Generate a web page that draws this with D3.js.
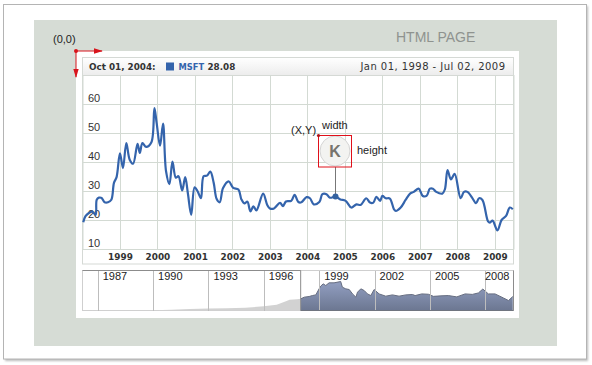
<!DOCTYPE html>
<html>
<head>
<meta charset="utf-8">
<script src="https://cdn.jsdelivr.net/npm/d3@7"></script>
<style>
  html, body { margin: 0; padding: 0; background: #fff; }
  svg { display: block; }
  text { font-family: "Liberation Sans", Arial, sans-serif; fill: #222; }
</style>
</head>
<body>
<div id="chart"></div>
<script>
// values
const priceYears = [1998.02,1998.08,1998.17,1998.26,1998.35,1998.38,1998.44,1998.51,1998.59,1998.68,1998.77,1998.84,1998.91,
  1999.0,1999.08,1999.17,1999.26,1999.35,1999.47,1999.53,1999.6,1999.7,1999.84,1999.92,1999.98,
  2000.07,2000.15,2000.23,2000.32,2000.4,2000.49,2000.56,2000.66,2000.74,2000.81,2000.9,2000.99,
  2001.07,2001.16,2001.23,2001.32,2001.41,2001.5,2001.58,2001.66,2001.75,2001.9,2002.02,2002.16,
  2002.24,2002.32,2002.4,2002.48,2002.56,2002.64,2002.82,2002.93,2003.0,2003.11,2003.27,2003.35,
  2003.43,2003.57,2003.66,2003.76,2003.84,2003.98,2004.07,2004.17,2004.32,2004.4,2004.51,2004.6,
  2004.75,2004.88,2005.02,2005.17,2005.31,2005.42,2005.57,2005.67,2005.76,2005.84,2005.94,2006.0,
  2006.09,2006.2,2006.31,2006.36,2006.49,2006.62,2006.74,2006.84,2006.97,2007.08,2007.18,2007.27,
  2007.35,2007.44,2007.6,2007.67,2007.74,2007.83,2007.93,2008.09,2008.18,2008.27,2008.41,2008.5,
  2008.58,2008.67,2008.82,2008.87,2008.94,2009.07,2009.18,2009.3,2009.4,2009.48];
const priceValues = [19.2,21.3,22.4,22.9,21.8,27,27.7,27.6,26.1,26.1,27,32.8,34.8,
  43,37.9,46.5,40.8,39.4,46.3,43.1,46.5,45.2,46.8,58.6,53.4,
  45.6,53.2,36.8,32.4,40.1,34.6,35.1,30.2,34.8,29.3,21.8,31.3,
  29.9,27.5,35.1,35.3,36.7,32.8,27.2,26.1,31,33.3,31.1,30.5,
  27.1,25.7,26.3,23,24.7,23.3,29.1,25.2,24,24,25.9,24.8,
  26.4,26.6,28.7,26.2,26.1,27.9,27.5,25.4,26.2,28.9,28.9,27.7,
  28.08,27.1,26.6,24.3,25.4,25.2,27.5,26,26,28,26.6,28.3,
  27.5,27.4,23.7,23.1,24.3,26.9,29.1,29.7,30.8,28.3,28.3,30.8,
  30.8,29.7,29.1,30.6,37.2,34,35.9,27.5,29.7,29.7,27.4,25.8,
  27.5,26.9,19.5,19.1,19.8,16.4,20,21.4,24.3,23.7];

const historyYears = [1986.18,1987,1988,1989,1990,1991,1992,1993,1994,1995,1996,1996.7,1997.2,1997.4,1997.8,1998.02];
const historyValues = [0.2,0.4,0.5,0.6,0.7,1.5,3,4,4.5,5.5,8.8,11.7,19,22,23,23.9];

const overviewYears = [1998.01,1998.19,1998.46,1998.64,1998.82,1999.0,1999.09,1999.22,1999.36,1999.54,1999.81,2000.17,2000.26,
  2000.44,2000.63,2000.81,2000.99,2001.08,2001.26,2001.44,2001.62,2001.8,2001.98,2002.25,2002.61,2002.97,2003.33,2003.7,
  2004.06,2004.2,2004.56,2004.92,2005.19,2005.6,2006.0,2006.46,2006.91,2007.3,2007.63,2007.87,2008.17,2008.53,2008.98,2009.26,2009.49];
const overviewValues = [23.9,27.3,28.7,30.7,32,44.4,50,54.6,51.2,56.7,56.7,59.4,47.8,
  44.4,43,34,27.3,37.6,44.4,41,34,30.7,43,34,29.4,32,29.4,32,
  32.8,30.6,34,33.3,29,30,30.6,27.9,34,33,36,44,34,34,25.8,20.4,28.6];

const yearTicks = [1999,2000,2001,2002,2003,2004,2005,2006,2007,2008,2009];
const valueTicks = [10,20,30,40,50,60];
const overviewTicks = [1987,1990,1993,1996,1999,2002,2005,2008];
const markerYear = 2004.75;
const markerValue = 28.08;

const chartW = 592, chartH = 365;

// decimal year to Date
function toDate(y) {
  const whole = Math.floor(y);
  const a = +new Date(whole, 0, 1), b = +new Date(whole + 1, 0, 1);
  return new Date(a + (y - whole) * (b - a));
}

const svg = d3.select("#chart").append("svg")
  .attr("width", chartW)
  .attr("height", chartH);

const defs = svg.append("defs");
defs.append("filter").attr("id", "blur")
  .append("feGaussianBlur").attr("stdDeviation", 1.2);

const headGrad = defs.append("linearGradient").attr("id", "headGrad")
  .attr("x1", 0).attr("x2", 0).attr("y1", 0).attr("y2", 1);
headGrad.append("stop").attr("offset", "0%").attr("stop-color", "#ffffff");
headGrad.append("stop").attr("offset", "100%").attr("stop-color", "#ececec");

const areaGrad = defs.append("linearGradient").attr("id", "areaGrad")
  .attr("x1", 0).attr("x2", 0).attr("y1", 0).attr("y2", 1);
areaGrad.append("stop").attr("offset", "0%").attr("stop-color", "#929fc2");
areaGrad.append("stop").attr("offset", "100%").attr("stop-color", "#6c7791");

const arrowHead = defs.append("marker").attr("id", "arrow")
  .attr("viewBox", "0 0 10 6").attr("refX", 9).attr("refY", 3)
  .attr("markerUnits", "userSpaceOnUse")
  .attr("markerWidth", 9).attr("markerHeight", 8)
  .attr("orient", "auto");
arrowHead.append("path").attr("d", "M0,0L10,3L0,6Z").attr("fill", "#d8141c");

// page frame
svg.append("rect").attr("x", 5).attr("y", 6).attr("width", 583).attr("height", 355)
  .attr("fill", "#bbb").attr("filter", "url(#blur)");
svg.append("rect").attr("x", 3.5).attr("y", 4.5).attr("width", 583).attr("height", 354.5)
  .attr("fill", "#fff").attr("stroke", "#b4b4b4");
svg.append("rect").attr("x", 34).attr("y", 20).attr("width", 523).attr("height", 326).attr("fill", "#d6dcd5");
svg.append("rect").attr("x", 76).attr("y", 51).attr("width", 443).attr("height", 267).attr("fill", "#fff");

svg.append("text").attr("x", 396).attr("y", 42).style("font-size", "14px").style("fill", "#8f938f").text("HTML PAGE");
svg.append("text").attr("x", 53).attr("y", 43).style("font-size", "11px").text("(0,0)");

// main plot
const plotLeft = 82.5, plotRight = 513.5, plotTop = 75, plotBottom = 249;

const x = d3.scaleTime()
  .domain([new Date(1998, 0, 1), new Date(2009, 6, 2)])
  .range([plotLeft, plotRight]);
const y = d3.scaleLinear()
  .domain([10, 70])
  .range([plotBottom, plotTop]);

svg.append("rect").attr("x", plotLeft).attr("y", 75.5).attr("width", plotRight - plotLeft).attr("height", 188.5)
  .attr("fill", "#fff").attr("stroke", "#d5d9d5");
svg.append("rect").attr("x", plotLeft).attr("y", 57.5).attr("width", plotRight - plotLeft).attr("height", 18)
  .attr("fill", "url(#headGrad)").attr("stroke", "#d5d9d5");

const xAxis = svg.append("g")
  .attr("transform", `translate(0,${plotBottom})`)
  .call(d3.axisBottom(x)
    .tickValues(yearTicks.map(d => new Date(d, 0, 1)))
    .tickFormat(d3.timeFormat("%Y"))
    .tickSize(-(plotBottom - plotTop))
    .tickPadding(5));
xAxis.select(".domain").attr("stroke", "#d3dad3");
xAxis.selectAll("line").attr("stroke", "#d3dad3").attr("stroke-width", 1).attr("shape-rendering", "crispEdges");
xAxis.selectAll("text")
  .style("font-family", "'DejaVu Sans', sans-serif")
  .style("font-size", "8.9px").style("font-weight", "bold").style("fill", "#333");

const yAxis = svg.append("g")
  .attr("transform", `translate(${plotLeft},0)`)
  .call(d3.axisLeft(y)
    .tickValues(valueTicks)
    .tickFormat(d3.format("d"))
    .tickSize(-(plotRight - plotLeft)));
yAxis.select(".domain").remove();
yAxis.selectAll("line").attr("stroke", "#d3dad3").attr("stroke-width", 1).attr("shape-rendering", "crispEdges");
yAxis.selectAll("text")
  .attr("text-anchor", "start")
  .attr("x", 5.5).attr("y", -2.5).attr("dy", 0)
  .style("font-size", "11px").style("fill", "#333");

const line = d3.line()
  .x((d, i) => x(toDate(priceYears[i])))
  .y(d => y(d))
  .curve(d3.curveCatmullRom.alpha(0.5));

svg.append("path")
  .datum(priceValues)
  .attr("d", line)
  .attr("fill", "none")
  .attr("stroke", "#3464ac")
  .attr("stroke-width", 2.2);

// marker and its connector
const mx = x(toDate(markerYear)), my = y(markerValue);
svg.append("line").attr("x1", mx).attr("x2", mx).attr("y1", 167).attr("y2", my).attr("stroke", "#777");
svg.append("circle").attr("cx", mx).attr("cy", my).attr("r", 3).attr("fill", "#34629f");

// K label and its bounds
svg.append("circle").attr("cx", 335).attr("cy", 151).attr("r", 15).attr("fill", "#f3f3f1").attr("stroke", "#d5d5d5");
svg.append("text").attr("x", 335).attr("y", 157).attr("text-anchor", "middle")
  .style("font-size", "16px").style("font-weight", "bold").style("fill", "#77736c").text("K");
svg.append("rect").attr("x", 318.5).attr("y", 135.5).attr("width", 33).attr("height", 31.5)
  .attr("fill", "none").attr("stroke", "#e0101a");
svg.append("circle").attr("cx", 318.5).attr("cy", 135.5).attr("r", 1.6).attr("fill", "#b01218");
svg.append("text").attr("x", 291).attr("y", 134).style("font-size", "11px").text("(X,Y)");
svg.append("text").attr("x", 322).attr("y", 129).style("font-size", "11px").text("width");
svg.append("text").attr("x", 357).attr("y", 154).style("font-size", "11px").text("height");

// origin arrows
svg.append("line").attr("x1", 76).attr("y1", 51).attr("x2", 102).attr("y2", 51)
  .attr("stroke", "#d8141c").attr("marker-end", "url(#arrow)");
svg.append("line").attr("x1", 76).attr("y1", 51).attr("x2", 76).attr("y2", 77)
  .attr("stroke", "#d8141c").attr("marker-end", "url(#arrow)");
svg.append("circle").attr("cx", 76).attr("cy", 51).attr("r", 2).attr("fill", "#d8141c");

// header texts
const headFont = "'DejaVu Sans', sans-serif";
svg.append("text").attr("x", 89).attr("y", 70).style("font-family", headFont)
  .style("font-size", "8.8px").style("font-weight", "bold").style("fill", "#333").text("Oct 01, 2004:");
svg.append("rect").attr("x", 166).attr("y", 62.5).attr("width", 8).attr("height", 8).attr("fill", "#3464ac");
svg.append("text").attr("x", 178.5).attr("y", 70).style("font-family", headFont)
  .style("font-size", "8.3px").style("font-weight", "bold").style("fill", "#3464ac").text("MSFT");
svg.append("text").attr("x", 207.5).attr("y", 70).style("font-family", headFont)
  .style("font-size", "8.8px").style("font-weight", "bold").style("fill", "#333").text("28.08");
svg.append("text").attr("x", 505.5).attr("y", 70).attr("text-anchor", "end").style("font-family", headFont)
  .style("font-size", "10px").style("letter-spacing", "0.45px").style("fill", "#333").text("Jan 01, 1998 - Jul 02, 2009");

// overview strip
const navTop = 270.5, navBottom = 310.5;
const nx = d3.scaleTime()
  .domain([toDate(1986.18), toDate(2009.53)])
  .range([plotLeft, plotRight]);
const ny = d3.scaleLinear()
  .domain([0, 82])
  .range([navBottom, navTop]);

svg.append("rect").attr("x", plotLeft).attr("y", navTop).attr("width", plotRight - plotLeft).attr("height", navBottom - navTop)
  .attr("fill", "#fff").attr("stroke", "#cfcfcf");

const historyArea = d3.area()
  .x((d, i) => nx(toDate(historyYears[i])))
  .y0(navBottom)
  .y1(d => ny(d));
svg.append("path").datum(historyValues).attr("d", historyArea).attr("fill", "#d2d2d2");

const overviewArea = d3.area()
  .x((d, i) => nx(toDate(overviewYears[i])))
  .y0(navBottom)
  .y1(d => ny(d));
const overviewLine = d3.line()
  .x((d, i) => nx(toDate(overviewYears[i])))
  .y(d => ny(d));
svg.append("path").datum(overviewValues).attr("d", overviewArea).attr("fill", "url(#areaGrad)");
svg.append("path").datum(overviewValues).attr("d", overviewLine)
  .attr("fill", "none").attr("stroke", "#666d80").attr("stroke-width", 1);

const navAxis = svg.append("g")
  .attr("transform", `translate(0,${navTop})`)
  .call(d3.axisBottom(nx)
    .tickValues(overviewTicks.map(d => new Date(d, 0, 1)))
    .tickFormat(d3.timeFormat("%Y"))
    .tickSize(navBottom - navTop));
navAxis.select(".domain").remove();
navAxis.selectAll("line").attr("stroke", "#bdbdbd").attr("shape-rendering", "crispEdges");
// the last label is pulled back so it stays inside the strip
navAxis.selectAll("text")
  .attr("text-anchor", "start")
  .attr("x", d => d.getFullYear() === 2008 ? -0.8 : 4.6)
  .attr("y", 2).attr("dy", "0.71em")
  .style("font-size", "11px").style("fill", "#222");

// selection edges
const selStart = nx(new Date(1998, 0, 1));
svg.append("line").attr("x1", plotLeft).attr("x2", selStart).attr("y1", navTop).attr("y2", navTop).attr("stroke", "#8c8c8c");
svg.append("line").attr("x1", selStart).attr("x2", selStart).attr("y1", navTop).attr("y2", navBottom).attr("stroke", "#8c8c8c");
svg.append("line").attr("x1", plotRight).attr("x2", plotRight).attr("y1", navTop).attr("y2", navBottom).attr("stroke", "#8c8c8c");
svg.append("line").attr("x1", selStart).attr("x2", plotRight).attr("y1", navBottom).attr("y2", navBottom).attr("stroke", "#70757f");
</script>
</body>
</html>
